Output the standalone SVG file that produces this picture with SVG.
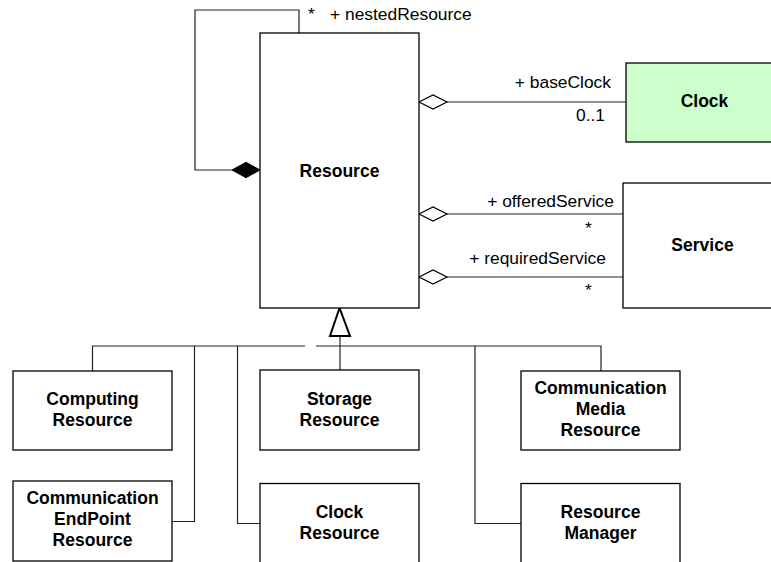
<svg xmlns="http://www.w3.org/2000/svg" width="771" height="562" viewBox="0 0 771 562">
<style>
.box{fill:#fff;stroke:#000;stroke-width:1.3}
.clk{fill:#ccffcc;stroke:#000;stroke-width:1.3}
.ln{fill:none;stroke:#222;stroke-width:1.2}
.nm{font-family:"Liberation Sans",Arial,sans-serif;font-weight:bold;font-size:17.5px;text-anchor:middle;fill:#000}
.lb{font-family:"Liberation Sans",Arial,sans-serif;font-size:17.4px;fill:#000}
.end{text-anchor:end}
.hd{fill:#fff;stroke:#000;stroke-width:1.2}
.fd{fill:#000;stroke:#000;stroke-width:1}
.tri{fill:#fff;stroke:#000;stroke-width:2}
</style>
<rect width="771" height="562" fill="#fff"/>
<g id="connectors">
  <polyline class="ln" points="299,33 299,10 195,10 195,170 232,170"/>
  <polygon class="fd" points="260,170 246,162.3 232,170 246,177.7"/>
  <line class="ln" x1="447" y1="102" x2="626" y2="102"/>
  <polygon class="hd" points="419,102 433,95 447,102 433,109"/>
  <line class="ln" x1="447" y1="214" x2="623" y2="214"/>
  <polygon class="hd" points="419,214 433,207 447,214 433,221"/>
  <line class="ln" x1="447" y1="277" x2="623" y2="277"/>
  <polygon class="hd" points="419,277 433,270 447,277 433,284"/>
  <line class="ln" x1="340" y1="336" x2="340" y2="370"/>
  <polyline class="ln" points="92.5,371 92.5,346 305,346"/>
  <polyline class="ln" points="316,346 601,346 601,371"/>
  <polyline class="ln" points="194.5,346 194.5,521.5 172,521.5"/>
  <polyline class="ln" points="237.5,346 237.5,523.5 260,523.5"/>
  <polyline class="ln" points="475,346 475,523.5 521,523.5"/>
  <polygon class="tri" points="339.5,308 330,336 350,336"/>
  <text class="lb" x="308" y="20">*</text>
  <text class="lb" x="330" y="20">+ nestedResource</text>
  <text class="lb end" x="611" y="88">+ baseClock</text>
  <text class="lb end" x="605" y="121">0..1</text>
  <text class="lb end" x="614" y="207">+ offeredService</text>
  <text class="lb" x="585" y="234">*</text>
  <text class="lb end" x="606" y="264">+ requiredService</text>
  <text class="lb" x="585" y="296">*</text>
</g>
<g id="resource">
  <rect class="box" x="260" y="33" width="159" height="275"/>
  <text class="nm" x="339.5" y="177">Resource</text>
</g>
<g id="clock">
  <rect class="clk" x="626" y="63" width="160" height="79"/>
  <text class="nm" x="704.5" y="107">Clock</text>
</g>
<g id="service">
  <rect class="box" x="623" y="183" width="160" height="125"/>
  <text class="nm" x="702.5" y="251">Service</text>
</g>
<g id="computing">
  <rect class="box" x="13" y="371" width="159" height="79"/>
  <text class="nm" x="92.5" y="405">Computing</text>
  <text class="nm" x="92.5" y="426">Resource</text>
</g>
<g id="storage">
  <rect class="box" x="260" y="370" width="159" height="80"/>
  <text class="nm" x="339.5" y="405">Storage</text>
  <text class="nm" x="339.5" y="426">Resource</text>
</g>
<g id="commMedia">
  <rect class="box" x="521" y="371" width="159" height="79"/>
  <text class="nm" x="600.5" y="394">Communication</text>
  <text class="nm" x="600.5" y="415">Media</text>
  <text class="nm" x="600.5" y="436">Resource</text>
</g>
<g id="commEndPoint">
  <rect class="box" x="13" y="481" width="159" height="80"/>
  <text class="nm" x="92.5" y="504">Communication</text>
  <text class="nm" x="92.5" y="525">EndPoint</text>
  <text class="nm" x="92.5" y="546">Resource</text>
</g>
<g id="clockResource">
  <rect class="box" x="260" y="483.5" width="159" height="85"/>
  <text class="nm" x="339.5" y="518">Clock</text>
  <text class="nm" x="339.5" y="539">Resource</text>
</g>
<g id="resourceManager">
  <rect class="box" x="521" y="483.5" width="159" height="85"/>
  <text class="nm" x="600.5" y="518">Resource</text>
  <text class="nm" x="600.5" y="539">Manager</text>
</g>
</svg>
